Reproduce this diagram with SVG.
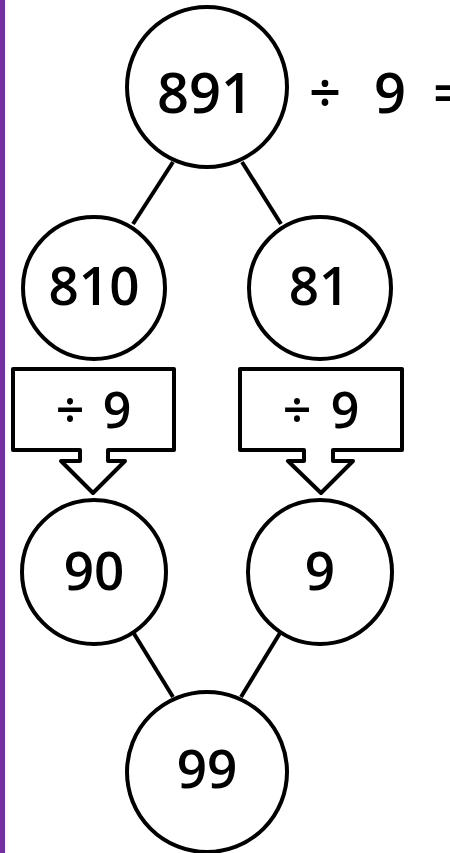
<svg xmlns="http://www.w3.org/2000/svg" width="450" height="853" viewBox="0 0 450 853">
<style>
.c{fill:#fff;stroke:#000;stroke-width:4}
.l{stroke:#000;stroke-width:4;fill:none}
.t{font-family:"Open Sans","DejaVu Sans",sans-serif;font-weight:600;fill:#000;text-anchor:middle}
</style>
<rect x="0" y="0" width="450" height="853" fill="#fff"/>
<rect x="0" y="0" width="5" height="853" fill="#7030a0"/>
<g id="connectors">
<line class="l" x1="173" y1="162" x2="133" y2="224"/>
<line class="l" x1="242" y1="162" x2="281" y2="224"/>
<line class="l" x1="133" y1="632" x2="173" y2="697"/>
<line class="l" x1="280" y1="633" x2="241" y2="697"/>
</g>
<g id="n891">
<circle class="c" cx="207" cy="87" r="80"/>
<text class="t" x="205" y="113" font-size="56">891</text>
</g>
<g id="eq">
<text class="t" x="325" y="113" font-size="56">÷</text>
<text class="t" x="390" y="113" font-size="56">9</text>
<text class="t" x="449" y="113" font-size="56">=</text>
</g>
<g id="n810">
<circle class="c" cx="94" cy="288" r="71"/>
<text class="t" x="94" y="305" font-size="53">810</text>
</g>
<g id="n81">
<circle class="c" cx="320" cy="288" r="71"/>
<text class="t" x="319" y="305" font-size="53">81</text>
</g>
<g id="box1">
<path class="c" stroke-linejoin="round" d="M13,369 H174 V450 H108 V461 H125 L93,493 L61,461 H80 V450 H13 Z"/>
<text class="t" x="70" y="428" font-size="50">÷</text>
<text class="t" x="117" y="428" font-size="50">9</text>
</g>
<g id="box2">
<path class="c" stroke-linejoin="round" d="M240,369 H402 V450 H333 V461 H353 L321,493 L288,461 H304 V450 H240 Z"/>
<text class="t" x="297" y="428" font-size="50">÷</text>
<text class="t" x="345" y="428" font-size="50">9</text>
</g>
<g id="n90">
<circle class="c" cx="94" cy="572" r="72"/>
<text class="t" x="94" y="590" font-size="53">90</text>
</g>
<g id="n9">
<circle class="c" cx="320" cy="572" r="72"/>
<text class="t" x="320" y="590" font-size="53">9</text>
</g>
<g id="n99">
<circle class="c" cx="207" cy="772" r="80"/>
<text class="t" x="207" y="788" font-size="53">99</text>
</g>
</svg>
